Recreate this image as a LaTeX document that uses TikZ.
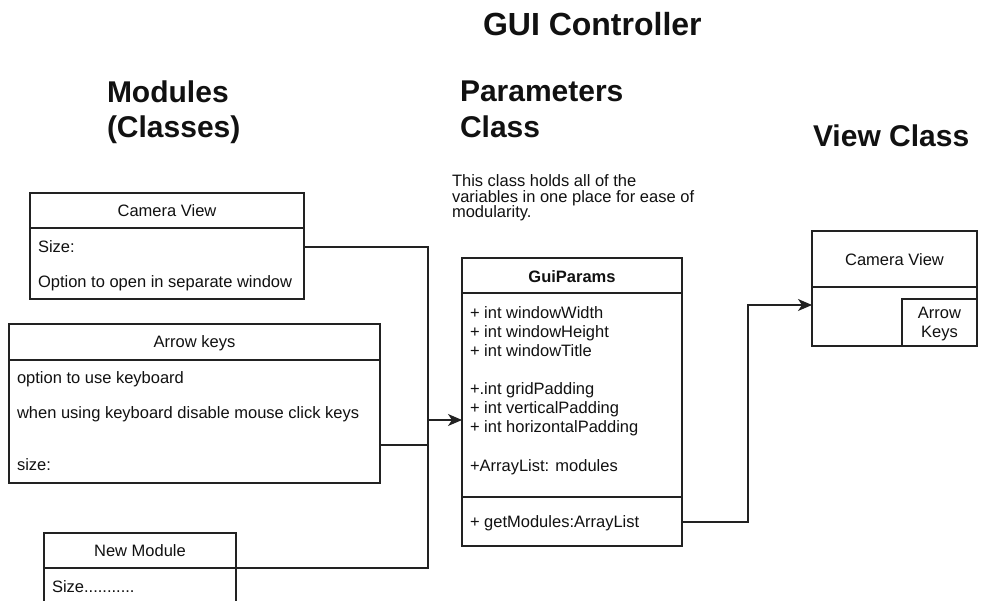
\documentclass[tikz,border=0pt]{standalone}
\usepackage{fontspec}
\setmainfont{Liberation Sans}
\usetikzlibrary{arrows.meta}
\definecolor{c222222}{RGB}{34,34,34}
\definecolor{c111111}{RGB}{17,17,17}

\begin{document}
\begin{tikzpicture}[y=-1pt, x=1pt, inner sep=0pt, outer sep=0pt, line width=1.3pt,
  every node/.append style={text=c111111, font=\fontsize{16.5}{19}\selectfont},
  heading/.style={anchor=base west, font=\fontsize{30}{36}\selectfont\bfseries},
  cell/.style={text height=11.8pt, text depth=0pt},
  rowtext/.style={cell, anchor=west},
  classbox/.style={draw=c222222, anchor=north west},
  conn/.style={draw=c222222, line cap=butt, line join=miter},
  tip/.style={-{Stealth[length=14pt, width=12pt, inset=4pt]}}]

  \useasboundingbox[fill=white] (0,0) rectangle (985,601);



  \node[anchor=base west, font=\fontsize{32}{38}\selectfont\bfseries] (title) at (483,36) {GUI Controller};



  \node[heading] (modules) at (107,103) {Modules};

  \node[heading] (classes) at (107,138) {(Classes)};

  \node[heading] (parameters) at (460,102) {Parameters};

  \node[heading] (paramclass) at (460,138) {Class};

  \node[heading] (viewclass) at (813,147) {View Class};



  \node[rowtext, font=\fontsize{16.5}{15}\selectfont] (note1) at (452,181) {This class holds all of the};

  \node[rowtext, font=\fontsize{16.5}{15}\selectfont] (note2) at (452,196.5) {variables in one place for ease of};

  \node[rowtext, font=\fontsize{16.5}{15}\selectfont] (note3) at (452,212) {modularity.};



  \node[classbox, minimum width=274pt, minimum height=106pt] (camview) at (30,193) {};

  \draw[conn] (30,228) -- (304,228);

  \node[cell] (camtitle) at (167,211) {Camera View};

  \node[rowtext] (camsize) at (38,247) {Size:};

  \node[rowtext] (camoption) at (38,282) {Option to open in separate window};



  \node[classbox, minimum width=371pt, minimum height=159pt] (arrowkeys) at (9,324) {};

  \draw[conn] (9,360) -- (380,360);

  \node[cell] (aktitle) at (194.5,342) {Arrow keys};

  \node[rowtext] (akoption) at (17,378) {option to use keyboard};

  \node[rowtext] (akmouse) at (17,413) {when using keyboard disable mouse click keys};

  \node[rowtext] (aksize) at (17,465) {size:};

  \coordinate (akout) at (380,445);



  \draw[conn] (44,601) |- (236,533) -- (236,601);

  \draw[conn] (44,568) -- (236,568);

  \node[cell] (newmodule) at (140,551) {New Module};

  \node[rowtext] (newsize) at (52,587) {Size...........};

  \coordinate (newout) at (236,568);



  \node[classbox, minimum width=220pt, minimum height=288pt] (guiparams) at (462,258) {};

  \draw[conn] (462,293) -- (682,293);

  \draw[conn] (462,497) -- (682,497);

  \node[cell, font=\fontsize{16.5}{19}\selectfont\bfseries] (guititle) at (572,277) {GuiParams};

  \node[rowtext] (pwidth) at (470,313) {+ int windowWidth};

  \node[rowtext] (pheight) at (470,332) {+ int windowHeight};

  \node[rowtext] (ptitle) at (470,351) {+ int windowTitle};

  \node[rowtext] (pgrid) at (470,389) {+.int gridPadding};

  \node[rowtext] (pvert) at (470,408) {+ int verticalPadding};

  \node[rowtext] (phoriz) at (470,427) {+ int horizontalPadding};

  \node[rowtext] (pmodules) at (470,466) {+ArrayList: modules};

  \node[rowtext] (getmod) at (470,522) {+ getModules:ArrayList};



  \node[classbox, minimum width=165pt, minimum height=115pt] (viewbox) at (812,231) {};

  \draw[conn] (812,287) -- (977,287);

  \node[cell] (viewtitle) at (894.5,260) {Camera View};

  \node[classbox, minimum width=75pt, minimum height=47pt] (viewkeys) at (902,299) {};

  \node[cell] (viewarrow) at (939.5,313) {Arrow};

  \node[cell] (viewkeystext) at (939.5,332) {Keys};

  \coordinate (viewin) at (812,305);



  \coordinate (bus) at (428,420);

  \draw[conn] (camsize -| camview.east) -| (bus |- newout) -- (newout);

  \draw[conn] (akout) -- (akout -| bus);

  \draw[conn, tip] (bus) -- (bus -| guiparams.west);

  \draw[conn, tip] (getmod -| guiparams.east) -- ++(66,0) |- (viewin);

\end{tikzpicture}
\end{document}
